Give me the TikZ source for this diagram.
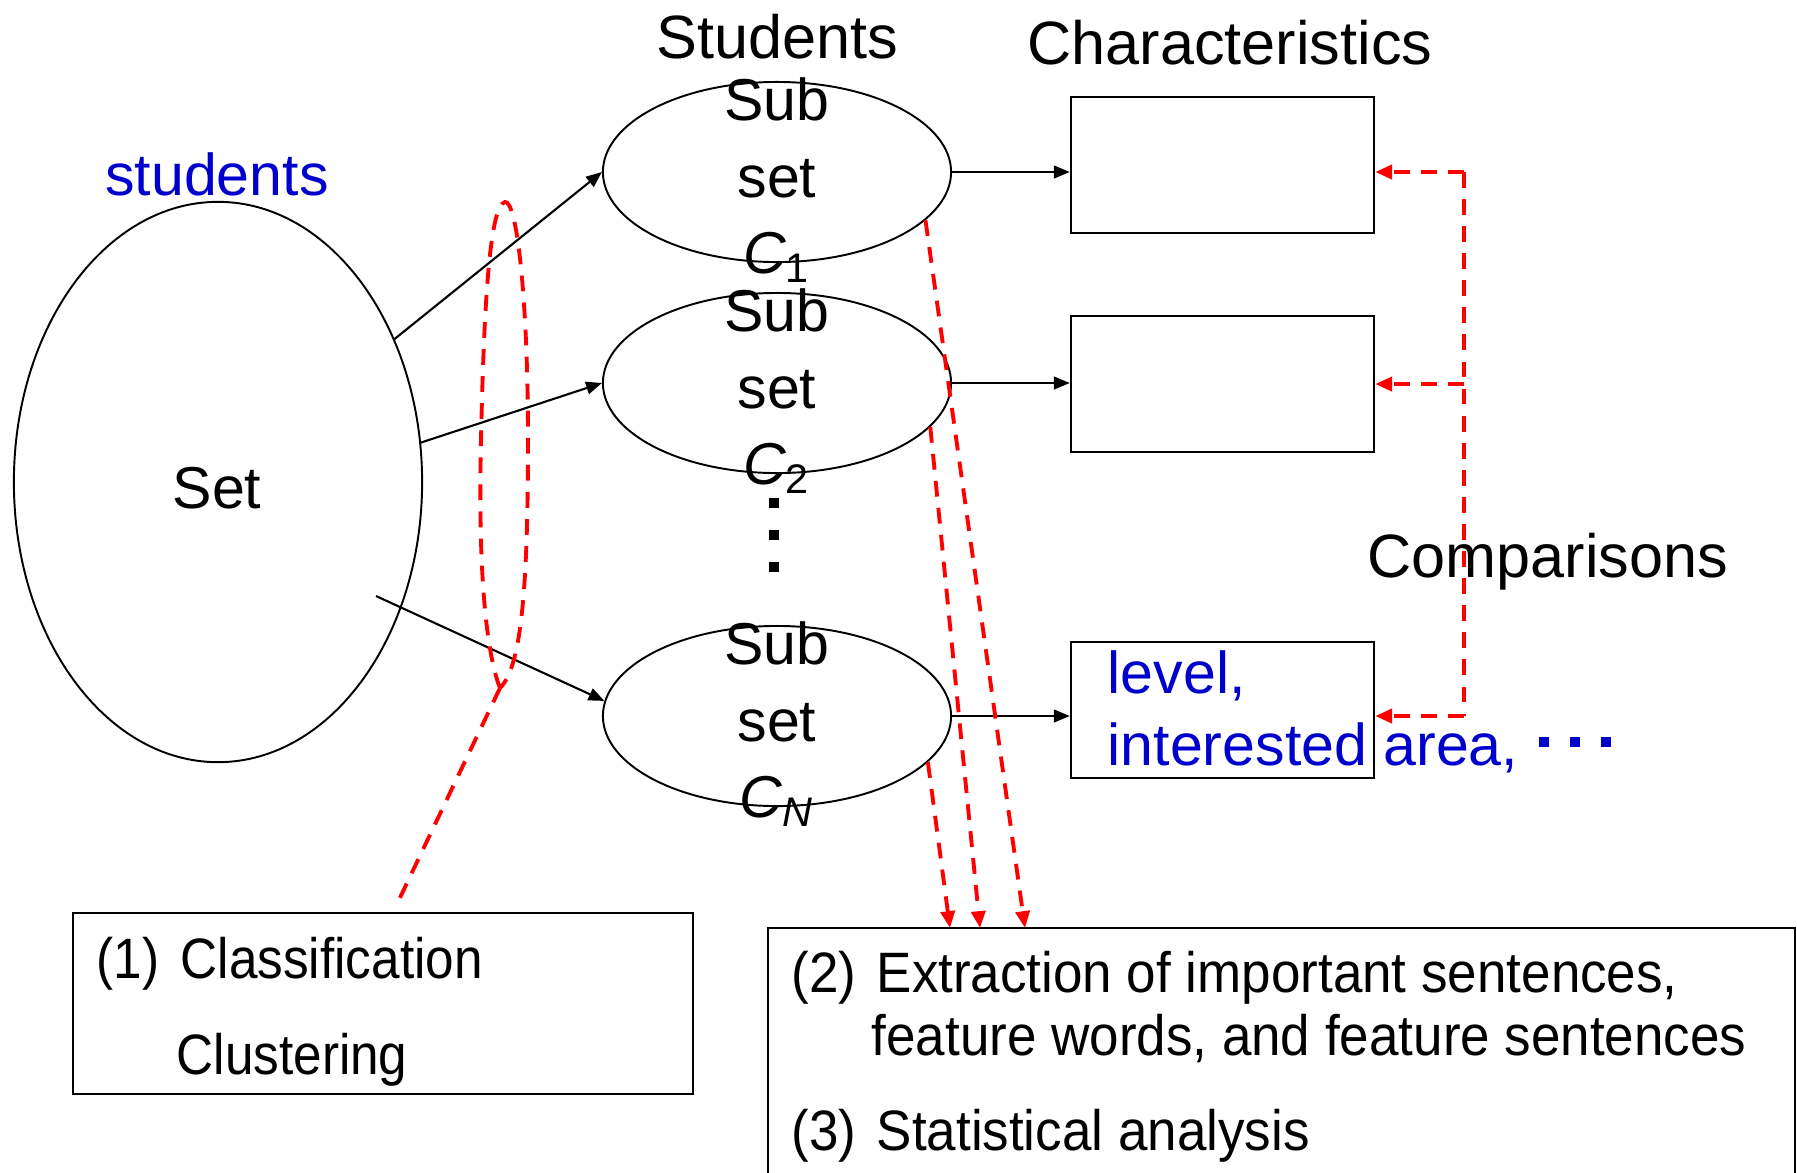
\documentclass[tikz,border=0pt]{standalone}
\usepackage{fontspec}
\setmainfont{Liberation Sans}
\newfontfamily\nfa[FakeStretch=0.9]{Liberation Sans}
\newfontfamily\nfb[FakeStretch=0.93]{Liberation Sans}
\usetikzlibrary{arrows.meta,shapes.geometric}
\definecolor{myblue}{RGB}{0,0,204}
\definecolor{myred}{RGB}{255,0,0}
\begin{document}
\begin{tikzpicture}[x=0.01cm,y=-0.01cm,
  lbl/.style={font=\fontsize{16.8}{20}\selectfont, inner sep=0pt},
  ttl/.style={font=\fontsize{17.4}{20}\selectfont, inner sep=0pt},
  bxa/.style={font=\nfa\fontsize{16.2}{20}\selectfont, inner sep=0pt, anchor=base west},
  bxb/.style={font=\nfb\fontsize{16.2}{20}\selectfont, inner sep=0pt, anchor=base west},
  ell/.style={draw=black, ellipse, line width=0.55pt, inner sep=0pt},
  box/.style={draw=black, rectangle, line width=0.65pt, inner sep=0pt},
  blkarrow/.style={draw=black, line width=0.6pt, -{Triangle[length=4.5pt,width=3.6pt]}},
  redd/.style={draw=myred, line width=1.1pt, dash pattern=on 4.5pt off 3.2pt},
  redarrow/.style={redd, -{Triangle[length=4.8pt,width=4pt]}},
  sq/.style={fill=#1, rectangle, inner sep=0pt, minimum size=0.105cm}
]
\useasboundingbox (0,0) rectangle (1797,1172);

% Main set
\node[ell, minimum width=4.08cm, minimum height=5.6cm] (set) at (218,482) {};
\node[lbl, anchor=base] (settxt) at (217,508) {Set};
\node[lbl, anchor=base, text=myblue] (studlbl) at (217,195) {students};

% Titles
\node[ttl, anchor=base] (sttl) at (777,58) {Students};
\node[ttl, anchor=base] (chtl) at (1230,64) {Characteristics};

% Subsets
\node[ell, minimum width=3.48cm, minimum height=1.8cm] (e1) at (777,172) {};
\node[ell, minimum width=3.48cm, minimum height=1.8cm] (e2) at (777,383) {};
\node[ell, minimum width=3.48cm, minimum height=1.8cm] (e3) at (777,716) {};
\foreach \n/\y/\s in {1/172/\textsubscript{1}, 2/383/\textsubscript{2}, 3/716/\textsubscript{\itshape N}}{
  \node[lbl, anchor=base] (sub\n) at (777,\y-52) {Sub};
  \node[lbl, anchor=base] (st\n) at (777,\y+25) {set};
  \node[lbl, anchor=base] (c\n) at (777,\y+101) {{\itshape C}\s};
}
% vertical dots
\node[sq=black] (d1) at (774,503) {};
\node[sq=black] (d2) at (774,535) {};
\node[sq=black] (d3) at (774,567) {};

% Characteristic boxes
\node[box, minimum width=3.03cm, minimum height=1.36cm] (b1) at (1222.5,165) {};
\node[box, minimum width=3.03cm, minimum height=1.36cm] (b2) at (1222.5,384) {};
\node[box, minimum width=3.03cm, minimum height=1.36cm] (b3) at (1222.5,710) {};
\node[lbl, anchor=base west, text=myblue] (lvl) at (1107,693) {level,};
\node[lbl, anchor=base west, text=myblue] (area) at (1107,765) {interested area,};
\node[sq=myblue] (bd1) at (1544,742) {};
\node[sq=myblue] (bd2) at (1575,742) {};
\node[sq=myblue] (bd3) at (1606,742) {};

% Arrows set -> subsets
\coordinate (s3) at (376,596);
\draw[blkarrow] (set.39) -- (e1.west);
\draw[blkarrow] (set.11) -- (e2.west);
\draw[blkarrow] (s3) -- (e3.175);

% Arrows subsets -> boxes
\draw[blkarrow] (e1.east) -- (e1.east -| b1.west);
\draw[blkarrow] (e2.east) -- (e2.east -| b2.west);
\draw[blkarrow] (e3.east) -- (e3.east -| b3.west);

% Comparisons
\coordinate (vt) at (1464,172);
\coordinate (vm) at (1464,384);
\coordinate (vb) at (1464,716);
\draw[redd] (vt) -- (vb);
\draw[redarrow] (vt) -- (vt -| b1.east);
\draw[redarrow] (vm) -- (vm -| b2.east);
\draw[redarrow] (vb) -- (vb -| b3.east);
\node[ttl, anchor=base west] (cmp) at (1367,577) {Comparisons};

% Classification loop
\coordinate (lb) at (500,688);
\coordinate (le) at (396,906);
\draw[redd] (lb) .. controls (485,650) and (478,560) .. (481,440)
  .. controls (484,300) and (490,205) .. (505,202)
  .. controls (517,200) and (528,300) .. (528,440)
  .. controls (528,600) and (520,668) .. (lb);
\draw[redd] (lb) -- (le);

% Box (1)
\node[box, minimum width=6.2cm, minimum height=1.81cm] (bx1) at (383,1003.5) {};
\node[bxa] (cls) at (96,978) {\makebox[0.84cm][l]{(1)}Classification};
\node[bxa] (clu) at (176,1074) {Clustering};

% Box (2)
\node[box, minimum width=10.27cm, minimum height=2.9cm] (bx2) at (1281.5,1073) {};
\coordinate (t1) at (1025,928);
\coordinate (t2) at (980,928);
\coordinate (t3) at (950,928);
\draw[redarrow] (e1.-18) -- (t1);
\draw[redarrow] (e2.-16) -- (t2);
\draw[redarrow] (e3.-17) -- (t3);
\node[bxb] (ex1) at (791,992) {\makebox[0.85cm][l]{(2)}Extraction of important sentences,};
\node[bxb] (ex2) at (871,1055) {feature words, and feature sentences};
\node[bxb] (sta) at (791,1150) {\makebox[0.85cm][l]{(3)}Statistical analysis};
\end{tikzpicture}
\end{document}
